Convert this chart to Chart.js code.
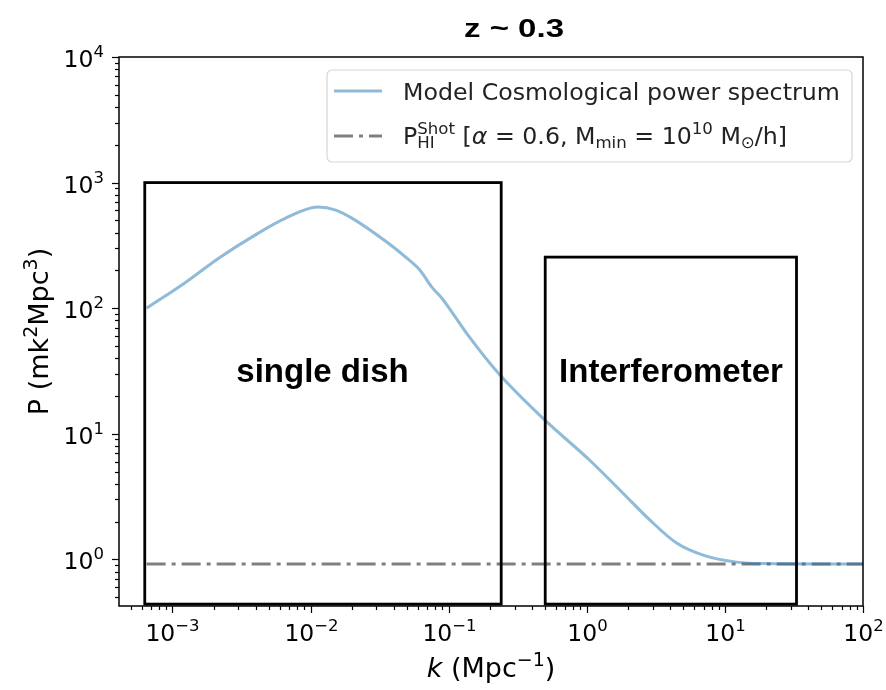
<!DOCTYPE html>
<html>
<head>
<meta charset="utf-8">
<script src="https://cdn.jsdelivr.net/npm/chart.js@4.4.0/dist/chart.umd.min.js"></script>
<style>
  html, body { margin: 0; padding: 0; background: #fff; }
</style>
</head>
<body>
<canvas id="spectrumChart" width="886" height="690"></canvas>
<script>
// k (Mpc^-1) and P (mK^2 Mpc^3)
const kValues = [6.5e-4, 1.25e-3, 2.16e-3, 3.75e-3, 6.6e-3, 1.13e-2, 1.52e-2, 1.99e-2, 3.56e-2, 4.98e-2,
  6.18e-2, 7.55e-2, 8.93e-2, 0.107, 0.135, 0.231, 0.48, 1.05, 1.83, 2.87, 4.5, 6.95, 12.2, 20, 50, 100];
const powerValues = [100, 161, 250, 368, 521, 638, 604, 521, 336, 250,
  201, 147, 120, 91, 63, 30, 13.3, 6.15, 3.36, 2.05, 1.34, 1.08, 0.95, 0.925, 0.92, 0.92];
const shotK = [6.5e-4, 100];
const shotValues = [0.92, 0.92];
const xRange = [4.1e-4, 100];
const yRange = [0.425, 1e4];

// observing regions (data units)
const regionNames = ['single dish', 'Interferometer'];
const regionK = [[6.3e-4, 0.24], [0.5, 33]];
const regionP = [[0.44, 1000], [0.44, 255]];
const regionLabelK = [0.0122, 4.07];
const regionLabelP = [25.7, 25.7];

const blue = 'rgba(31,119,180,0.5)';
const grey = 'rgba(0,0,0,0.5)';
const dashDot = [19, 6, 4, 6];
const sans = '"DejaVu Sans"';

// text with sub/superscripts, parts drawn one after another
function richWidth(ctx, parts) {
  let w = 0;
  parts.forEach(p => {
    if (p.stack) {
      w += Math.max(...p.stack.map(s => { ctx.font = s.font; return ctx.measureText(s.t).width; }));
    } else {
      ctx.font = p.font;
      w += ctx.measureText(p.t).width;
    }
  });
  return w;
}

function drawRich(ctx, x, y, parts) {
  let cx = x;
  parts.forEach(p => {
    if (p.stack) {
      let w = 0;
      p.stack.forEach(s => {
        ctx.font = s.font;
        ctx.fillText(s.t, cx, y + s.dy);
        w = Math.max(w, ctx.measureText(s.t).width);
      });
      cx += w;
    } else {
      ctx.font = p.font;
      ctx.fillText(p.t, cx, y + (p.dy || 0));
      cx += ctx.measureText(p.t).width;
    }
  });
}

const tickBig = '23.5px ' + sans;
const tickSmall = '16.5px ' + sans;

function decadeParts(exp) {
  return [
    { t: '10', font: tickBig },
    { t: String(exp).replace('-', '−'), font: tickSmall, dy: -10 }
  ];
}

function drawAxis(ctx, scale, area, horizontal) {
  const lo = Math.floor(Math.log10(scale.min));
  const hi = Math.ceil(Math.log10(scale.max));
  for (let n = lo; n <= hi; n++) {
    for (let m = 1; m <= 9; m++) {
      const v = m * Math.pow(10, n);
      if (v < scale.min * 0.999 || v > scale.max * 1.001) continue;
      const p = Math.round(scale.getPixelForValue(v)) + 0.5;
      const len = m === 1 ? 7 : 4;
      ctx.beginPath();
      if (horizontal) {
        ctx.moveTo(p, area.bottom);
        ctx.lineTo(p, area.bottom + len);
      } else {
        ctx.moveTo(area.left, p);
        ctx.lineTo(area.left - len, p);
      }
      ctx.stroke();
      if (m !== 1) continue;
      const parts = decadeParts(n);
      const w = richWidth(ctx, parts);
      if (horizontal) {
        drawRich(ctx, p - w / 2, area.bottom + 35, parts);
      } else {
        drawRich(ctx, area.left - 15 - w, p + 9, parts);
      }
    }
  }
}

const axesFrame = {
  id: 'axesFrame',
  afterDraw(chart) {
    const { ctx, chartArea: a, scales } = chart;
    ctx.save();
    ctx.strokeStyle = '#000';
    ctx.fillStyle = '#000';
    ctx.textBaseline = 'alphabetic';
    ctx.textAlign = 'left';
    ctx.lineWidth = 1.2;
    drawAxis(ctx, scales.x, a, true);
    drawAxis(ctx, scales.y, a, false);
    ctx.lineWidth = 1.5;
    ctx.strokeRect(a.left, a.top, a.right - a.left, a.bottom - a.top);
    ctx.restore();
  }
};

const regionBoxes = {
  id: 'regionBoxes',
  afterDatasetsDraw(chart) {
    const { ctx, scales: { x, y } } = chart;
    ctx.save();
    ctx.strokeStyle = '#000';
    ctx.lineWidth = 2.8;
    ctx.fillStyle = '#000';
    ctx.font = 'bold 33px "Liberation Sans"';
    ctx.textAlign = 'center';
    ctx.textBaseline = 'alphabetic';
    regionNames.forEach((name, i) => {
      const x0 = x.getPixelForValue(regionK[i][0]);
      const x1 = x.getPixelForValue(regionK[i][1]);
      const y0 = y.getPixelForValue(regionP[i][0]);
      const y1 = y.getPixelForValue(regionP[i][1]);
      ctx.strokeRect(x0, y1, x1 - x0, y0 - y1);
      ctx.fillText(name, x.getPixelForValue(regionLabelK[i]), y.getPixelForValue(regionLabelP[i]));
    });
    ctx.restore();
  }
};

const textOverlay = {
  id: 'textOverlay',
  afterDraw(chart) {
    const { ctx, chartArea: a } = chart;
    ctx.save();
    ctx.fillStyle = '#000';
    ctx.textBaseline = 'alphabetic';

    // title
    ctx.save();
    ctx.font = 'bold 25px "Liberation Sans"';
    ctx.textAlign = 'center';
    ctx.translate(514, 37);
    ctx.scale(1.32, 1);
    ctx.fillText('z ~ 0.3', 0, 0);
    ctx.restore();
    ctx.textAlign = 'left';

    // x axis title
    const big = '27px ' + sans;
    const bigSmall = '19px ' + sans;
    const xTitle = [
      { t: 'k', font: 'italic ' + big },
      { t: ' (Mpc', font: big },
      { t: '−1', font: bigSmall, dy: -11 },
      { t: ')', font: big }
    ];
    const xw = richWidth(ctx, xTitle);
    drawRich(ctx, (a.left + a.right) / 2 - xw / 2, 677, xTitle);

    // y axis title
    const yTitle = [
      { t: 'P (mk', font: big },
      { t: '2', font: bigSmall, dy: -11 },
      { t: 'Mpc', font: big },
      { t: '3', font: bigSmall, dy: -11 },
      { t: ')', font: big }
    ];
    const yw = richWidth(ctx, yTitle);
    ctx.save();
    ctx.translate(48, (a.top + a.bottom) / 2);
    ctx.rotate(-Math.PI / 2);
    drawRich(ctx, -yw / 2, 0, yTitle);
    ctx.restore();

    // legend
    const lx = 327, ly = 70, lw = 525, lh = 92;
    ctx.beginPath();
    ctx.roundRect(lx, ly, lw, lh, 5);
    ctx.fillStyle = 'rgba(255,255,255,0.8)';
    ctx.fill();
    ctx.strokeStyle = '#d6d6d6';
    ctx.lineWidth = 1.2;
    ctx.stroke();

    ctx.lineWidth = 3;
    ctx.strokeStyle = blue;
    ctx.beginPath();
    ctx.moveTo(lx + 7, 91);
    ctx.lineTo(lx + 55, 91);
    ctx.stroke();
    ctx.strokeStyle = grey;
    ctx.setLineDash(dashDot);
    ctx.beginPath();
    ctx.moveTo(lx + 7, 136);
    ctx.lineTo(lx + 55, 136);
    ctx.stroke();
    ctx.setLineDash([]);

    const base = '23.7px ' + sans;
    const small = '16.6px ' + sans;
    ctx.fillStyle = '#222';
    ctx.font = base;
    ctx.fillText('Model Cosmological power spectrum', 403, 100);
    drawRich(ctx, 403, 144, [
      { t: 'P', font: base },
      { stack: [{ t: 'Shot', font: small, dy: -10 }, { t: 'HI', font: small, dy: 4 }] },
      { t: ' [', font: base },
      { t: 'α', font: 'italic ' + base },
      { t: ' = 0.6, M', font: base },
      { t: 'min', font: small, dy: 4 },
      { t: ' = 10', font: base },
      { t: '10', font: small, dy: -10 },
      { t: ' M', font: base },
      { t: '⊙', font: small, dy: 4 },
      { t: '/h]', font: base }
    ]);
    ctx.restore();
  }
};

const spectrumPoints = kValues.map((k, i) => ({ x: k, y: powerValues[i] }));
const shotPoints = shotK.map((k, i) => ({ x: k, y: shotValues[i] }));

new Chart(document.getElementById('spectrumChart'), {
  type: 'line',
  data: {
    datasets: [
      {
        label: 'Model Cosmological power spectrum',
        data: spectrumPoints,
        borderColor: blue,
        borderWidth: 3,
        pointRadius: 0,
        cubicInterpolationMode: 'monotone',
        fill: false
      },
      {
        label: 'Shot noise',
        data: shotPoints,
        borderColor: grey,
        borderWidth: 3,
        borderDash: dashDot,
        pointRadius: 0,
        fill: false
      }
    ]
  },
  options: {
    responsive: false,
    animation: false,
    devicePixelRatio: 1,
    layout: { padding: { top: 57, right: 23, left: 0, bottom: 0 } },
    plugins: {
      legend: { display: false },
      title: { display: false },
      tooltip: { enabled: false }
    },
    scales: {
      x: {
        type: 'logarithmic',
        min: xRange[0],
        max: xRange[1],
        afterFit: s => { s.height = 84; },
        grid: { display: false },
        border: { display: false },
        ticks: { display: false }
      },
      y: {
        type: 'logarithmic',
        min: yRange[0],
        max: yRange[1],
        afterFit: s => { s.width = 119; },
        grid: { display: false },
        border: { display: false },
        ticks: { display: false }
      }
    }
  },
  plugins: [axesFrame, regionBoxes, textOverlay]
});
</script>
</body>
</html>
